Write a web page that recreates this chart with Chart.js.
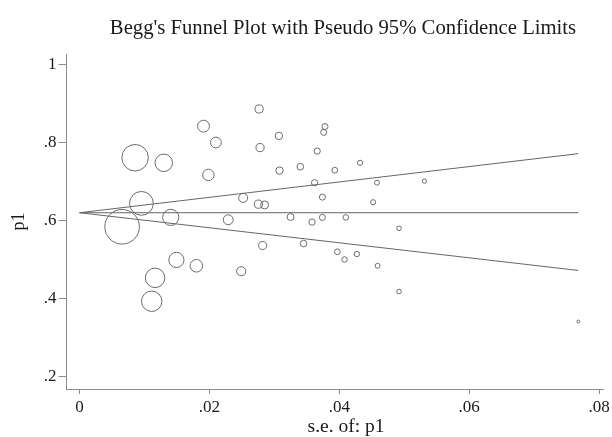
<!DOCTYPE html>
<html>
<head>
<meta charset="utf-8">
<script src="https://cdn.jsdelivr.net/npm/chart.js@4"></script>
<style>
  html, body { margin: 0; padding: 0; background: #fff; }
  #wrap { width: 612px; height: 437px; }
</style>
</head>
<body>
<div id="wrap"><canvas id="grafica" width="612" height="437"></canvas></div>
<script>
// datos (s.e. de p1, p1)
const seValores = [0.00656, 0.00856, 0.00954, 0.01112, 0.01164, 0.01297, 0.01405, 0.01492, 0.0180, 0.0191,
  0.01985, 0.0210, 0.0229, 0.0249, 0.0252, 0.02754, 0.02765, 0.0278, 0.0282, 0.0285,
  0.0307, 0.0308, 0.0325, 0.0340, 0.0345, 0.0358, 0.0362, 0.0366, 0.0374, 0.0374,
  0.0376, 0.0378, 0.0393, 0.0397, 0.0408, 0.0410, 0.0427, 0.0432, 0.0452, 0.0458,
  0.0459, 0.0492, 0.0492, 0.0531, 0.0768];
const p1Valores = [0.585, 0.762, 0.645, 0.394, 0.454, 0.749, 0.609, 0.500, 0.485, 0.843,
  0.718, 0.801, 0.603, 0.471, 0.659, 0.643, 0.887, 0.788, 0.537, 0.641,
  0.818, 0.729, 0.610, 0.739, 0.542, 0.597, 0.698, 0.779, 0.661, 0.609,
  0.827, 0.842, 0.730, 0.521, 0.501, 0.609, 0.515, 0.749, 0.648, 0.698,
  0.485, 0.581, 0.419, 0.702, 0.342];

// limites pseudo 95%
const limiteX = [0, 0.0768];
const centro = [0.621, 0.621];
const superior = [0.621, 0.7725];
const inferior = [0.621, 0.473];

const ticksX = [0, 0.02, 0.04, 0.06, 0.08];
const ticksY = [0.2, 0.4, 0.6, 0.8, 1];

const titulo = "Begg's Funnel Plot with Pseudo 95% Confidence Limits";
const tituloX = "s.e. of: p1";
const tituloY = "p1";

const gris = "#6b6b6b";
const texto = "#1a1a1a";
const fuente = "'Liberation Serif', 'Times New Roman', serif";

// peso = 1/se^2 -> radio proporcional a 1/se
const burbujas = seValores.map((se, i) => ({ x: se, y: p1Valores[i], r: 0.1135 / se }));
const linea = (ys) => limiteX.map((x, i) => ({ x: x, y: ys[i] }));

function etiqueta(v) {
  if (v === 0) return "0";
  if (v === 1) return "1";
  return String(+v.toFixed(2)).replace(/^0\./, ".");
}

// titulo y titulo del eje x, algo corridos a la derecha como en Stata
const titulosPlugin = {
  id: "titulosStata",
  afterDraw(chart) {
    const ctx = chart.ctx;
    ctx.save();
    ctx.fillStyle = texto;
    ctx.textAlign = "center";
    ctx.font = "20.7px " + fuente;
    ctx.textBaseline = "alphabetic";
    ctx.fillText(titulo, 343, 33.5);
    ctx.font = "19.5px " + fuente;
    ctx.textBaseline = "middle";
    ctx.fillText(tituloX, 346, 426.5);
    ctx.restore();
  }
};

const lineaOpts = { type: "scatter", showLine: true, borderColor: "#666", borderWidth: 1, pointRadius: 0, fill: false };

new Chart(document.getElementById("grafica").getContext("2d"), {
  type: "scatter",
  data: {
    datasets: [
      { type: "bubble", data: burbujas, borderColor: gris, borderWidth: 1, backgroundColor: "rgba(0,0,0,0)" },
      Object.assign({ data: linea(centro) }, lineaOpts),
      Object.assign({ data: linea(superior) }, lineaOpts),
      Object.assign({ data: linea(inferior) }, lineaOpts)
    ]
  },
  options: {
    responsive: false,
    animation: false,
    events: [],
    layout: { autoPadding: false, padding: { top: 54, right: 9, left: 0, bottom: 0 } },
    plugins: { legend: { display: false }, tooltip: { enabled: false }, title: { display: false } },
    scales: {
      x: {
        type: "linear",
        min: -0.002,
        max: 0.0806,
        afterFit: (s) => { s.height = 48; s.paddingLeft = 0; s.paddingRight = 0; },
        afterBuildTicks: (s) => { s.ticks = ticksX.map(v => ({ value: v })); },
        ticks: { color: texto, font: { family: fuente, size: 17 }, padding: 3, callback: etiqueta, maxRotation: 0 },
        grid: { drawOnChartArea: false, drawTicks: true, tickLength: 5, color: "#8c8c8c" },
        border: { display: true, color: "#8c8c8c" },
        title: { display: false }
      },
      y: {
        type: "linear",
        min: 0.169,
        max: 1.028,
        afterFit: (s) => { s.width = 66.5; s.paddingTop = 0; s.paddingBottom = 0; },
        afterBuildTicks: (s) => { s.ticks = ticksY.map(v => ({ value: v })); },
        ticks: { color: texto, font: { family: fuente, size: 17 }, padding: 2, callback: etiqueta },
        grid: { drawOnChartArea: false, drawTicks: true, tickLength: 8, color: "#8c8c8c" },
        border: { display: true, color: "#8c8c8c" },
        title: { display: true, text: tituloY, color: texto, font: { family: fuente, size: 18 }, padding: { top: 8, bottom: 0 } }
      }
    }
  },
  plugins: [titulosPlugin]
});
</script>
</body>
</html>
